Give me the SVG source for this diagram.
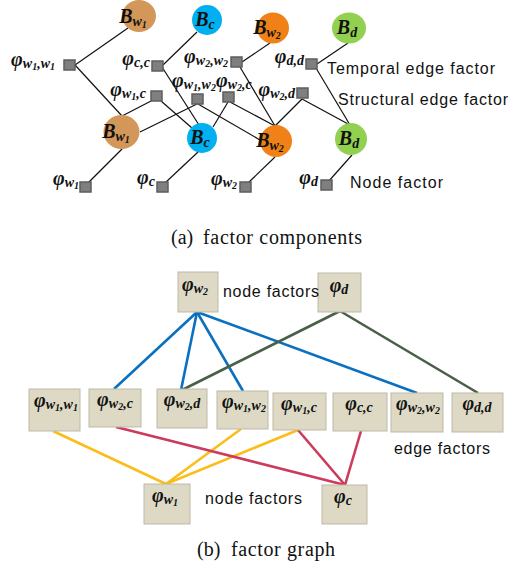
<svg xmlns="http://www.w3.org/2000/svg" width="519" height="567" viewBox="0 0 519 567">
<style>
  .m { font-family: "Liberation Serif", "DejaVu Serif", serif; font-weight: bold; font-style: italic; font-size: 20px; fill: #111; }
  .s { font-size: 14px; }
  .ss { font-size: 10px; }
  .lbl { font-family: "Liberation Sans", "Open Sans", sans-serif; font-size: 16px; fill: #111; }
  .cap { font-family: "Liberation Serif", "Times New Roman", serif; font-size: 20px; fill: #111; }
  .sq { fill: #7f7f7f; stroke: #5e5e5e; stroke-width: 1.5; }
  .thin line { stroke: #111; stroke-width: 1.2; }
  .box { fill: #ddd9c4; stroke: #bdb9a8; stroke-width: 1; }
  .blue { stroke: #0a70c0; stroke-width: 2.6; }
  .green { stroke: #4a5f48; stroke-width: 2.6; }
  .yellow { stroke: #fbbd1a; stroke-width: 2.6; }
  .red { stroke: #cc3a5c; stroke-width: 2.6; }
</style>

<!-- (a) factor components: connectors -->
<g id="connectors-a" class="thin">
  <line x1="128" y1="28" x2="75" y2="65"/>
  <line x1="75" y1="65" x2="122" y2="116"/>
  <line x1="197" y1="32" x2="163" y2="65"/>
  <line x1="162" y1="67" x2="199" y2="125"/>
  <line x1="153" y1="100" x2="122" y2="116"/>
  <line x1="161" y1="101" x2="192" y2="128"/>
  <line x1="197" y1="104" x2="140" y2="132"/>
  <line x1="198" y1="104" x2="260" y2="140"/>
  <line x1="228" y1="102" x2="213" y2="127"/>
  <line x1="230" y1="102" x2="275" y2="126"/>
  <line x1="270" y1="43" x2="242" y2="62"/>
  <line x1="240" y1="67" x2="275" y2="126"/>
  <line x1="302" y1="99" x2="275" y2="126"/>
  <line x1="302" y1="99" x2="350" y2="125"/>
  <line x1="348" y1="43" x2="317" y2="64"/>
  <line x1="316" y1="68" x2="350" y2="125"/>
  <line x1="122" y1="149" x2="88" y2="183"/>
  <line x1="198" y1="152" x2="165" y2="183"/>
  <line x1="275" y1="157" x2="248" y2="183"/>
  <line x1="352" y1="155" x2="328" y2="182"/>
</g>

<!-- (a) variable nodes -->
<g id="B_w1_top"><ellipse cx="139" cy="16" rx="17" ry="16" fill="#d4975a"/><text class="m" x="133" y="23" text-anchor="middle">B<tspan class="s" dy="3">w</tspan><tspan class="ss" dy="2">1</tspan></text></g>
<g id="B_c_top"><circle cx="207" cy="20" r="15" fill="#00b0f0"/><text class="m" x="205" y="26" text-anchor="middle">B<tspan class="s" dy="3">c</tspan></text></g>
<g id="B_w2_top"><ellipse cx="273" cy="28" rx="16" ry="15.5" fill="#ef8116"/><text class="m" x="267" y="34" text-anchor="middle">B<tspan class="s" dy="3">w</tspan><tspan class="ss" dy="2">2</tspan></text></g>
<g id="B_d_top"><ellipse cx="349" cy="28" rx="17" ry="15.5" fill="#92d050"/><text class="m" x="347" y="34" text-anchor="middle">B<tspan class="s" dy="3">d</tspan></text></g>
<g id="B_w1_bot"><ellipse cx="121.5" cy="132" rx="18" ry="17" fill="#d4975a"/><text class="m" x="116" y="138" text-anchor="middle">B<tspan class="s" dy="3">w</tspan><tspan class="ss" dy="2">1</tspan></text></g>
<g id="B_c_bot"><circle cx="202" cy="138" r="15" fill="#00b0f0"/><text class="m" x="200" y="144" text-anchor="middle">B<tspan class="s" dy="3">c</tspan></text></g>
<g id="B_w2_bot"><circle cx="276" cy="141" r="16" fill="#ef8116"/><text class="m" x="270" y="147" text-anchor="middle">B<tspan class="s" dy="3">w</tspan><tspan class="ss" dy="2">2</tspan></text></g>
<g id="B_d_bot"><circle cx="351" cy="139" r="16" fill="#92d050"/><text class="m" x="349" y="145" text-anchor="middle">B<tspan class="s" dy="3">d</tspan></text></g>

<!-- (a) factor squares with labels -->
<g id="f_w1w1"><rect class="sq" x="64" y="60" width="11" height="10"/><text class="m" x="55" y="66" text-anchor="end">φ<tspan class="s" dy="2">w</tspan><tspan class="ss" dy="2">1</tspan><tspan class="s" dy="-2">,w</tspan><tspan class="ss" dy="2">1</tspan></text></g>
<g id="f_cc"><rect class="sq" x="152" y="61" width="11" height="10"/><text class="m" x="150" y="65" text-anchor="end">φ<tspan class="s" dy="2">c,c</tspan></text></g>
<g id="f_w2w2"><rect class="sq" x="231" y="57" width="11" height="10"/><text class="m" x="228" y="63" text-anchor="end">φ<tspan class="s" dy="2">w</tspan><tspan class="ss" dy="2">2</tspan><tspan class="s" dy="-2">,w</tspan><tspan class="ss" dy="2">2</tspan></text></g>
<g id="f_dd"><rect class="sq" x="306" y="59" width="11" height="10"/><text class="m" x="304" y="63" text-anchor="end">φ<tspan class="s" dy="2">d,d</tspan></text></g>
<g id="f_w1c"><rect class="sq" x="151" y="91" width="11" height="10"/><text class="m" x="146" y="96" text-anchor="end">φ<tspan class="s" dy="2">w</tspan><tspan class="ss" dy="2">1</tspan><tspan class="s" dy="-2">,c</tspan></text></g>
<g id="f_w1w2"><rect class="sq" x="192" y="94" width="11" height="10"/><text class="m" x="172" y="87">φ<tspan class="s" dy="2">w</tspan><tspan class="ss" dy="2">1</tspan><tspan class="s" dy="-2">,w</tspan><tspan class="ss" dy="2">2</tspan></text></g>
<g id="f_w2c"><rect class="sq" x="223" y="92" width="11" height="10"/><text class="m" x="216" y="87">φ<tspan class="s" dy="2">w</tspan><tspan class="ss" dy="2">2</tspan><tspan class="s" dy="-2">,c</tspan></text></g>
<g id="f_w2d"><rect class="sq" x="297" y="88" width="11" height="10"/><text class="m" x="295" y="96" text-anchor="end">φ<tspan class="s" dy="2">w</tspan><tspan class="ss" dy="2">2</tspan><tspan class="s" dy="-2">,d</tspan></text></g>
<g id="f_w1"><rect class="sq" x="80" y="182" width="11" height="10"/><text class="m" x="79" y="185" text-anchor="end">φ<tspan class="s" dy="2">w</tspan><tspan class="ss" dy="2">1</tspan></text></g>
<g id="f_c"><rect class="sq" x="157" y="182" width="11" height="10"/><text class="m" x="155" y="184" text-anchor="end">φ<tspan class="s" dy="2">c</tspan></text></g>
<g id="f_w2"><rect class="sq" x="240" y="182" width="11" height="10"/><text class="m" x="237" y="185" text-anchor="end">φ<tspan class="s" dy="2">w</tspan><tspan class="ss" dy="2">2</tspan></text></g>
<g id="f_d"><rect class="sq" x="321" y="180" width="11" height="10"/><text class="m" x="318" y="184" text-anchor="end">φ<tspan class="s" dy="2">d</tspan></text></g>

<g id="legend-a">
  <text class="lbl" x="327" y="74" textLength="168">Temporal edge factor</text>
  <text class="lbl" x="338" y="105" textLength="170">Structural edge factor</text>
  <text class="lbl" x="350" y="188" textLength="93">Node factor</text>
</g>
<g id="caption-a">
  <text class="cap" x="171" y="244">(a)</text>
  <text class="cap" x="203" y="244" textLength="159">factor components</text>
</g>

<!-- (b) factor graph: connectors -->
<g id="connectors-b">
  <line class="blue" x1="197" y1="312" x2="114" y2="389"/>
  <line class="blue" x1="197" y1="312" x2="181" y2="390"/>
  <line class="blue" x1="197" y1="312" x2="243" y2="391"/>
  <line class="blue" x1="197" y1="312" x2="417" y2="393"/>
  <line class="green" x1="340" y1="311" x2="182" y2="390"/>
  <line class="green" x1="340" y1="311" x2="478" y2="393"/>
  <line class="yellow" x1="166" y1="484" x2="53" y2="431"/>
  <line class="yellow" x1="166" y1="484" x2="241" y2="429"/>
  <line class="yellow" x1="166" y1="484" x2="298" y2="430"/>
  <line class="red" x1="345" y1="485" x2="116" y2="427"/>
  <line class="red" x1="345" y1="485" x2="298" y2="430"/>
  <line class="red" x1="345" y1="485" x2="361" y2="431"/>
</g>

<!-- (b) node factor boxes -->
<g id="n_w2"><rect class="box" x="178" y="272" width="40" height="40"/><text class="m" x="195" y="291" text-anchor="middle">φ<tspan class="s" dy="2">w</tspan><tspan class="ss" dy="2">2</tspan></text></g>
<g id="n_d"><rect class="box" x="318" y="273" width="43" height="39"/><text class="m" x="339" y="292" text-anchor="middle">φ<tspan class="s" dy="2">d</tspan></text></g>
<g id="n_w1"><rect class="box" x="144" y="484" width="46" height="40"/><text class="m" x="165" y="502" text-anchor="middle">φ<tspan class="s" dy="2">w</tspan><tspan class="ss" dy="2">1</tspan></text></g>
<g id="n_c"><rect class="box" x="322" y="485" width="45" height="39"/><text class="m" x="343" y="503" text-anchor="middle">φ<tspan class="s" dy="2">c</tspan></text></g>

<!-- (b) edge factor boxes -->
<g id="e_w1w1"><rect class="box" x="29" y="389" width="51" height="42"/><text class="m" x="56" y="407" text-anchor="middle">φ<tspan class="s" dy="2">w</tspan><tspan class="ss" dy="2">1</tspan><tspan class="s" dy="-2">,w</tspan><tspan class="ss" dy="2">1</tspan></text></g>
<g id="e_w2c"><rect class="box" x="89" y="389" width="52" height="38"/><text class="m" x="115" y="406" text-anchor="middle">φ<tspan class="s" dy="2">w</tspan><tspan class="ss" dy="2">2</tspan><tspan class="s" dy="-2">,c</tspan></text></g>
<g id="e_w2d"><rect class="box" x="157" y="389" width="50" height="39"/><text class="m" x="182" y="406" text-anchor="middle">φ<tspan class="s" dy="2">w</tspan><tspan class="ss" dy="2">2</tspan><tspan class="s" dy="-2">,d</tspan></text></g>
<g id="e_w1w2"><rect class="box" x="217" y="391" width="51" height="38"/><text class="m" x="244" y="408" text-anchor="middle">φ<tspan class="s" dy="2">w</tspan><tspan class="ss" dy="2">1</tspan><tspan class="s" dy="-2">,w</tspan><tspan class="ss" dy="2">2</tspan></text></g>
<g id="e_w1c"><rect class="box" x="273" y="393" width="53" height="37"/><text class="m" x="299" y="410" text-anchor="middle">φ<tspan class="s" dy="2">w</tspan><tspan class="ss" dy="2">1</tspan><tspan class="s" dy="-2">,c</tspan></text></g>
<g id="e_cc"><rect class="box" x="333" y="393" width="54" height="38"/><text class="m" x="359" y="410" text-anchor="middle">φ<tspan class="s" dy="2">c,c</tspan></text></g>
<g id="e_w2w2"><rect class="box" x="391" y="393" width="52" height="39"/><text class="m" x="418" y="410" text-anchor="middle">φ<tspan class="s" dy="2">w</tspan><tspan class="ss" dy="2">2</tspan><tspan class="s" dy="-2">,w</tspan><tspan class="ss" dy="2">2</tspan></text></g>
<g id="e_dd"><rect class="box" x="452" y="393" width="51" height="39"/><text class="m" x="477" y="410" text-anchor="middle">φ<tspan class="s" dy="2">d,d</tspan></text></g>

<g id="legend-b">
  <text class="lbl" x="223" y="297" textLength="96">node factors</text>
  <text class="lbl" x="394" y="454" textLength="96">edge factors</text>
  <text class="lbl" x="205" y="504" textLength="97">node factors</text>
</g>
<g id="caption-b">
  <text class="cap" x="197" y="556">(b)</text>
  <text class="cap" x="231" y="556" textLength="104">factor graph</text>
</g>
</svg>
